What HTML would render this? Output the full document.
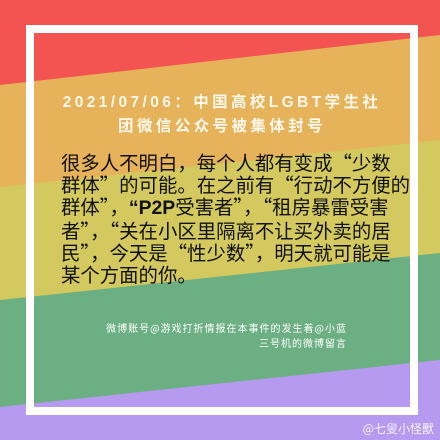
<!DOCTYPE html>
<html><head><meta charset="utf-8"><style>
body{margin:0;width:440px;height:440px;overflow:hidden;font-family:"Liberation Sans","Noto Sans CJK SC",sans-serif}
#c{position:relative;width:440px;height:440px}
svg{position:absolute;left:0;top:0}
.t{position:absolute;left:0;width:444px;text-align:center;color:#fff8ec;font-weight:bold;font-size:15.5px;letter-spacing:3.4px;white-space:nowrap}
.b{position:absolute;left:61px;top:151px;font-family:"Noto Sans CJK SC",sans-serif;font-size:19.4px;line-height:21.8px;color:#111;white-space:nowrap}
.b b{font-family:"Liberation Sans",sans-serif}
.f{position:absolute;right:93px;top:320px;text-align:right;color:#fff;font-family:"Noto Sans CJK SC",sans-serif;font-size:10px;letter-spacing:1px;line-height:15px;white-space:nowrap}
.w{position:absolute;right:6px;top:420px;color:#f4f0ff;font-family:"Noto Sans CJK SC",sans-serif;font-size:12px;white-space:nowrap}
</style></head><body>
<div id="c">
<svg width="440" height="440">
<rect width="440" height="440" fill="#f35452"/>
<polygon points="0,85 440,35 440,440 0,440" fill="#e6b35a"/>
<polygon points="0,187 440,140 440,440 0,440" fill="#d3c95f"/>
<polygon points="0,300 440,253 440,440 0,440" fill="#6caf82"/>
<polygon points="0,407 440,360 440,440 0,440" fill="#b69af0"/>
<rect x="30" y="29" width="384" height="382" fill="none" stroke="#fff" stroke-width="8"/>
</svg>
<div class="t" style="top:90px">2021/07/06：中国高校LGBT学生社</div>
<div class="t" style="top:114px">团微信公众号被集体封号</div>
<div class="b">很多人不明白，每个人都有变成“少数<br>群体”的可能。在之前有“行动不方便的<br>群体”，<b>“P2P</b>受害者”，“租房暴雷受害<br>者”，“关在小区里隔离不让买外卖的居<br>民”，今天是“性少数”，明天就可能是<br>某个方面的你。</div>
<div class="f">微博账号@游戏打折情报在本事件的发生着@小蓝<br>三号机的微博留言</div>
<div class="w">@七叟小怪獸</div>
</div>
</body></html>
